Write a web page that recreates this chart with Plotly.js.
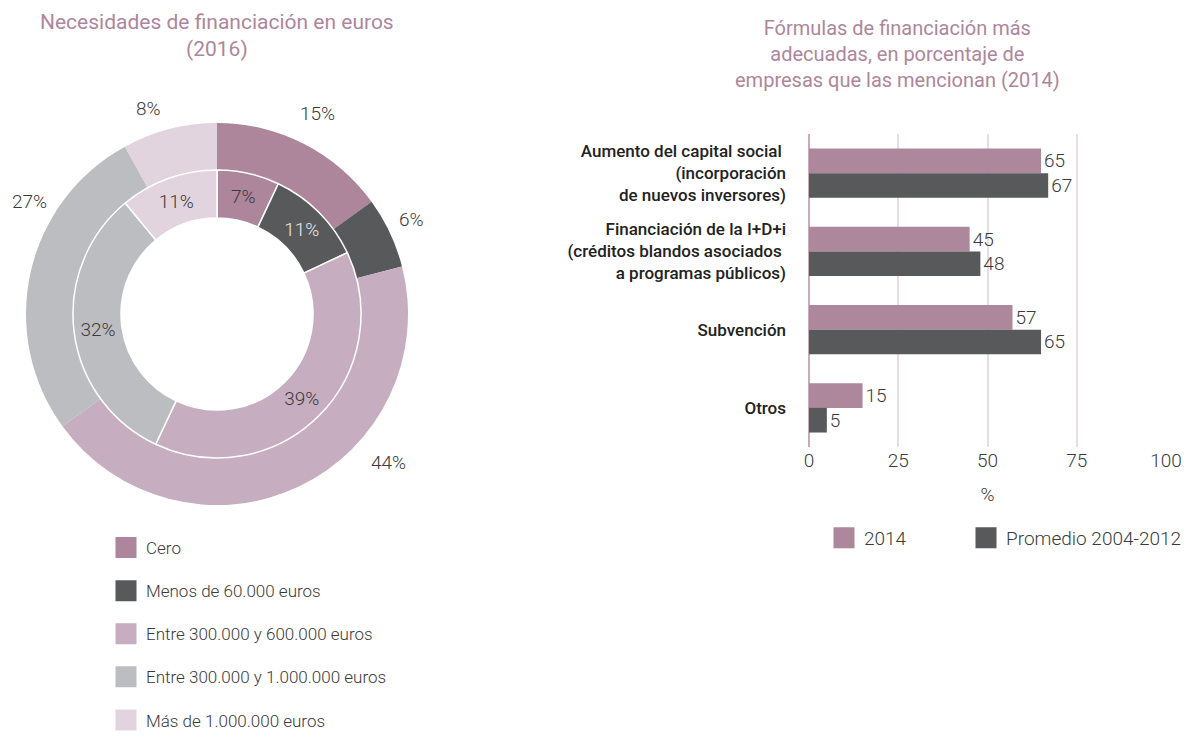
<!DOCTYPE html>
<html>
<head>
<meta charset="utf-8">
<script src="https://cdn.plot.ly/plotly-3.0.1.min.js"></script>
<style>
  html, body { margin: 0; padding: 0; background: #ffffff; }
  #chart { width: 1188px; height: 738px; }
</style>
</head>
<body>
<div id="chart"></div>
<script>
// ---------- Data ----------
const donutLabels = [
  'Cero',
  'Menos de 60.000 euros',
  'Entre 300.000 y 600.000 euros',
  'Entre 300.000 y 1.000.000 euros',
  'Más de 1.000.000 euros'
];
const donutColors = ['#ad869c', '#58595b', '#c7adc0', '#bcbdc0', '#e2d4de'];
const outerValues = [15, 6, 44, 27, 8];
const innerValues = [7, 11, 39, 32, 11];

const barCategories = [
  'Aumento del capital social <br>(incorporación<br>de nuevos inversores)',
  'Financiación de la I+D+i<br>(créditos blandos asociados <br>a programas públicos)',
  'Subvención',
  'Otros'
];
const seriesNames = ['2014', 'Promedio 2004-2012'];
const seriesColors = ['#ad879c', '#58595b'];
const values2014 = [65, 45, 57, 15];
const valuesPromedio = [67, 48, 65, 5];
const xTickValues = [0, 25, 50, 75, 100];

const leftTitle = 'Necesidades de financiación en euros<br>(2016)';
const rightTitle = 'Fórmulas de financiación más<br>adecuadas, en porcentaje de<br>empresas que las mencionan (2014)';
const xAxisTitle = '%';

// ---------- Styling ----------
const FONT = "Roboto, 'DejaVu Sans Condensed', Arial, sans-serif";
const TEXT_DARK = '#3a3a3c';
const TITLE_COLOR = '#ad869c';
const W = 1188, H = 738;
const px = v => v / W;
const py = v => (H - v) / H;

// label placement of the outer-ring percentages (outside the ring), in pixels
const outerLabelPlacement = [[317, 113], [412, 220], [388, 462], [29, 201], [148, 108]];

const traces = [];

// Outer ring
traces.push({
  type: 'pie',
  labels: donutLabels,
  values: outerValues,
  sort: false,
  direction: 'clockwise',
  rotation: 0,
  hole: 144 / 191,
  domain: { x: [px(26), px(408)], y: [py(505), py(123)] },
  marker: { colors: donutColors, line: { width: 0 } },
  textinfo: 'none',
  showlegend: false,
  hoverinfo: 'skip'
});

// Inner ring
traces.push({
  type: 'pie',
  labels: donutLabels,
  values: innerValues,
  sort: false,
  direction: 'clockwise',
  rotation: 0,
  hole: 96 / 144,
  domain: { x: [px(73), px(361)], y: [py(458), py(170)] },
  marker: { colors: donutColors, line: { width: 1.5, color: '#ffffff' } },
  texttemplate: '%{value}%',
  textposition: 'inside',
  insidetextorientation: 'horizontal',
  textfont: { family: FONT, size: 19, weight: 300, color: [TEXT_DARK, '#e8e8e8', TEXT_DARK, TEXT_DARK, TEXT_DARK] },
  showlegend: false,
  hoverinfo: 'skip'
});

// Bars
const barValues = [values2014, valuesPromedio];
barValues.forEach((vals, i) => {
  traces.push({
    type: 'bar',
    orientation: 'h',
    name: seriesNames[i],
    x: vals,
    y: barCategories,
    marker: { color: seriesColors[i] },
    text: vals.map(String),
    textposition: 'outside',
    textfont: { family: FONT, size: 19, weight: 300, color: TEXT_DARK },
    cliponaxis: false,
    showlegend: false,
    hoverinfo: 'skip',
    xaxis: 'x',
    yaxis: 'y'
  });
});

// Legend entries for donut (left legend)
donutLabels.forEach((lab, i) => {
  traces.push({
    type: 'scatter', mode: 'markers', name: lab,
    x: [null], y: [null], xaxis: 'x2', yaxis: 'y2',
    marker: { symbol: 'square', size: 16, color: donutColors[i], line: { width: 5, color: donutColors[i] } },
    legend: 'legend', legendgroup: 'd' + i, showlegend: true, hoverinfo: 'skip'
  });
});

// Legend entries for bars (right legends)
seriesNames.forEach((nm, i) => {
  traces.push({
    type: 'scatter', mode: 'markers', name: nm,
    x: [null], y: [null], xaxis: 'x2', yaxis: 'y2',
    marker: { symbol: 'square', size: 16, color: seriesColors[i], line: { width: 5, color: seriesColors[i] } },
    legend: i === 0 ? 'legend2' : 'legend3', showlegend: true, hoverinfo: 'skip'
  });
});

const outerAnnotations = outerValues.map((v, i) => ({
  text: v + '%', xref: 'paper', yref: 'paper',
  x: px(outerLabelPlacement[i][0]), y: py(outerLabelPlacement[i][1]),
  xanchor: 'center', yanchor: 'middle', showarrow: false,
  font: { family: FONT, size: 19, weight: 300, color: TEXT_DARK }
}));

const legendCommon = {
  bgcolor: 'rgba(0,0,0,0)',
  itemclick: false, itemdoubleclick: false
};

const layout = {
  width: W, height: H,
  margin: { l: 0, r: 0, t: 0, b: 0 },
  paper_bgcolor: '#ffffff',
  plot_bgcolor: 'rgba(0,0,0,0)',
  font: { family: FONT, size: 16, color: TEXT_DARK },
  showlegend: true,
  barmode: 'group',
  bargap: 0.37,
  bargroupgap: 0,
  xaxis: {
    domain: [px(809), px(1166)],
    range: [0, 100],
    tickvals: xTickValues,
    ticktext: xTickValues.map(String),
    showgrid: true,
    gridcolor: '#e9dde5',
    gridwidth: 2,
    zeroline: true,
    zerolinecolor: '#c8a9bd',
    zerolinewidth: 2,
    showline: false,
    ticks: '',
    tickfont: { family: FONT, size: 19, weight: 300, color: TEXT_DARK },
    title: { text: xAxisTitle, font: { family: FONT, size: 19, weight: 300, color: TEXT_DARK }, standoff: 16 },
    fixedrange: true
  },
  yaxis: {
    domain: [py(447), py(134)],
    type: 'category',
    autorange: 'reversed',
    showgrid: false,
    zeroline: false,
    showline: false,
    ticks: '',
    ticklabelstandoff: 22,
    tickfont: { family: FONT, size: 17, color: '#222222', weight: 500 },
    fixedrange: true
  },
  xaxis2: { domain: [0, 0.001], visible: false, anchor: 'y2' },
  yaxis2: { domain: [0, 0.001], visible: false, anchor: 'x2' },
  legend: Object.assign({
    x: px(106), xanchor: 'left',
    y: py(530), yanchor: 'top',
    orientation: 'v',
    tracegroupgap: 18,
    font: { family: FONT, size: 17, weight: 300, color: TEXT_DARK }
  }, legendCommon),
  legend2: Object.assign({
    x: px(824), xanchor: 'left',
    y: py(538), yanchor: 'middle',
    orientation: 'h',
    font: { family: FONT, size: 19, weight: 300, color: TEXT_DARK }
  }, legendCommon),
  legend3: Object.assign({
    x: px(966), xanchor: 'left',
    y: py(538), yanchor: 'middle',
    orientation: 'h',
    font: { family: FONT, size: 19, weight: 300, color: TEXT_DARK }
  }, legendCommon),
  annotations: [
    {
      text: leftTitle, xref: 'paper', yref: 'paper',
      x: px(217), y: py(8), xanchor: 'center', yanchor: 'top',
      showarrow: false, align: 'center',
      font: { family: FONT, size: 21, weight: 400, color: TITLE_COLOR }
    },
    {
      text: rightTitle, xref: 'paper', yref: 'paper',
      x: px(898), y: py(14), xanchor: 'center', yanchor: 'top',
      showarrow: false, align: 'center',
      font: { family: FONT, size: 20, weight: 400, color: TITLE_COLOR }
    }
  ].concat(outerAnnotations)
};

Plotly.newPlot('chart', traces, layout, { displayModeBar: false, staticPlot: true });
</script>
</body>
</html>
